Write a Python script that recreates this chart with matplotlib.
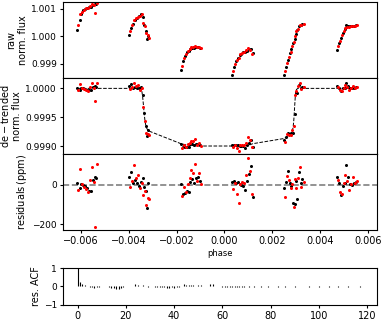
import matplotlib
matplotlib.use("Agg")
import matplotlib.pyplot as plt
import numpy as np

# ---- black points (phase, raw flux, de-trended flux, residuals in ppm)
phase_k = [-0.00615, -0.00606, -0.00598, -0.00590, -0.00582, -0.00574, -0.00566, -0.00558, -0.00550, -0.00542, -0.00536,
           -0.00398, -0.00390, -0.00382, -0.00374, -0.00366, -0.00358, -0.00350, -0.00342, -0.00336, -0.00330, -0.00324, -0.00319,
           -0.00182, -0.00174, -0.00166, -0.00158, -0.00150, -0.00142, -0.00134, -0.00126, -0.00118, -0.00110, -0.00102,
           0.00031, 0.00039, 0.00047, 0.00055, 0.00063, 0.00071, 0.00079, 0.00087, 0.00095, 0.00103, 0.00111, 0.00118,
           0.00249, 0.00257, 0.00265, 0.00273, 0.00280, 0.00287, 0.00293, 0.00298, 0.00304, 0.00311, 0.00318, 0.00326,
           0.00470, 0.00478, 0.00486, 0.00494, 0.00502, 0.00510, 0.00518, 0.00526, 0.00534, 0.00542, 0.00550]
raw_k = [1.00023, 1.00060, 1.00082, 1.00094, 1.00100, 1.00103, 1.00105, 1.00107, 1.00113, 1.00116, 1.00116,
         1.00006, 1.00030, 1.00045, 1.00058, 1.00066, 1.00073, 1.00080, 1.00072, 1.00040, 1.00018, 0.99990, 1.00000,
         0.99879, 0.99912, 0.99930, 0.99942, 0.99948, 0.99956, 0.99958, 0.99958, 0.99960, 0.99960, 0.99959,
         0.99861, 0.99889, 0.99910, 0.99922, 0.99932, 0.99937, 0.99942, 0.99943, 0.99948, 0.99953, 0.99956, 0.99938,
         0.99861, 0.99890, 0.99915, 0.99940, 0.99955, 0.99975, 0.99990, 1.00010, 1.00022, 1.00036, 1.00041, 1.00044,
         0.99949, 0.99975, 0.99995, 1.00012, 1.00025, 1.00043, 1.00038, 1.00036, 1.00037, 1.00039, 1.00040]
det_k = [1.00001, 0.99998, 1.00000, 1.00000, 0.99999, 0.99998, 0.99997, 0.99997, 1.00002, 1.00004, 1.00003,
         1.00004, 1.00007, 1.00001, 1.00002, 1.00001, 1.00000, 1.00002, 0.99988, 0.99957, 0.99935, 0.99918, 0.99928,
         0.99904, 0.99898, 0.99898, 0.99899, 0.99898, 0.99903, 0.99903, 0.99901, 0.99903, 0.99904, 0.99902,
         0.99902, 0.99902, 0.99901, 0.99901, 0.99900, 0.99900, 0.99900, 0.99897, 0.99902, 0.99906, 0.99910, 0.99898,
         0.99911, 0.99916, 0.99923, 0.99920, 0.99922, 0.99923, 0.99955, 0.99994, 0.99992, 1.00006, 1.00001, 1.00003,
         1.00004, 1.00001, 0.99995, 1.00000, 1.00001, 1.00010, 1.00004, 1.00000, 1.00000, 1.00001, 1.00002]
res_k = [10, -18, 4, -2, -8, -15, -30, -32, 24, 40, 32,
         40, 66, 10, 24, 7, -5, 15, 32, -10, -30, -116, 7,
         5, -44, -40, -30, -35, 15, 27, 10, 32, 37, 20,
         15, 19, 7, 12, 3, 0, -5, -27, 20, 54, 96, -61,
         -18, 15, 69, 10, -5, -94, -98, 20, -74, 63, 10, 30,
         40, 7, -52, -4, 8, 100, 37, 5, 0, 10, 15]

# ---- red points
phase_r = [-0.00612, -0.00603, -0.00595, -0.00587, -0.00579, -0.00571, -0.00563, -0.00555, -0.00547, -0.00540, -0.00534,
           -0.00394, -0.00386, -0.00378, -0.00370, -0.00362, -0.00354, -0.00346, -0.00339, -0.00333, -0.00327, -0.00321, -0.00316,
           -0.00178, -0.00170, -0.00162, -0.00154, -0.00146, -0.00138, -0.00130, -0.00122, -0.00114, -0.00106, -0.00099,
           0.00035, 0.00043, 0.00051, 0.00059, 0.00067, 0.00075, 0.00083, 0.00091, 0.00099, 0.00107, 0.00114,
           0.00253, 0.00261, 0.00269, 0.00277, 0.00284, 0.00290, 0.00296, 0.00301, 0.00307, 0.00314, 0.00322, 0.00331,
           0.00474, 0.00482, 0.00490, 0.00498, 0.00506, 0.00514, 0.00522, 0.00530, 0.00538, 0.00546, 0.00554]
raw_r = [1.00040, 1.00080, 1.00088, 1.00097, 1.00102, 1.00103, 1.00111, 1.00118, 1.00113, 1.00084, 1.00120,
         1.00018, 1.00040, 1.00060, 1.00065, 1.00072, 1.00074, 1.00082, 1.00049, 1.00036, 1.00014, 1.00005, 0.99994,
         0.99891, 0.99920, 0.99937, 0.99947, 0.99953, 0.99960, 0.99961, 0.99964, 0.99960, 0.99963, 0.99958,
         0.99875, 0.99900, 0.99914, 0.99922, 0.99936, 0.99940, 0.99944, 0.99950, 0.99957, 0.99952, 0.99936,
         0.99875, 0.99905, 0.99927, 0.99945, 0.99965, 0.99978, 1.00003, 1.00018, 1.00028, 1.00040, 1.00043, 1.00045,
         0.99966, 0.99985, 1.00005, 1.00020, 1.00032, 1.00035, 1.00033, 1.00036, 1.00039, 1.00038, 1.00041]
det_r = [0.99997, 1.00008, 1.00000, 0.99999, 0.99998, 0.99996, 1.00002, 1.00009, 1.00001, 0.99978, 1.00010,
         0.99999, 1.00002, 1.00010, 1.00004, 1.00005, 0.99998, 1.00001, 0.99967, 0.99943, 0.99923, 0.99921, 0.99919,
         0.99897, 0.99901, 0.99899, 0.99903, 0.99905, 0.99909, 0.99908, 0.99912, 0.99902, 0.99906, 0.99900,
         0.99898, 0.99901, 0.99896, 0.99891, 0.99901, 0.99902, 0.99901, 0.99905, 0.99915, 0.99910, 0.99898,
         0.99907, 0.99920, 0.99919, 0.99919, 0.99928, 0.99934, 0.99988, 0.99996, 1.00004, 1.00009, 0.99999, 1.00002,
         1.00002, 0.99997, 0.99996, 1.00001, 1.00005, 1.00002, 0.99997, 1.00000, 1.00004, 1.00001, 1.00002]
res_r = [-27, 78, 5, -12, -20, -35, 24, 88, 15, -215, 104,
         -13, 20, 100, 35, 49, -18, 10, -52, -30, -103, -69, -72,
         -55, -10, -35, 5, 32, 74, 58, 104, 20, 58, 5,
         -20, 10, -44, -91, 5, 15, 8, 49, 136, 71, -44,
         -61, 46, 24, -18, 5, -114, 30, -18, 36, 88, -10, 15,
         24, -35, -44, 10, 49, 20, -27, 5, 40, 8, 20]

# ---- transit model (dashed line)
model_phase = [-0.00615, -0.00347, -0.00342, -0.00339, -0.00336, -0.00333, -0.00330, -0.00327, -0.00324, -0.00321, -0.00316,
               -0.00182, -0.00150, -0.00099, 0.00031, 0.00100, 0.00118,
               0.00249, 0.00265, 0.00277, 0.00284, 0.00287, 0.00290, 0.00293, 0.00296, 0.00298, 0.00301, 0.00304, 0.00307,
               0.00554]
model_flux = [1.00000, 1.00000, 0.99985, 0.99972, 0.99958, 0.99946, 0.99938, 0.99933, 0.99930, 0.99928, 0.99926,
              0.99904, 0.99901, 0.99900, 0.99900, 0.99901, 0.99904,
              0.99913, 0.99916, 0.99921, 0.99927, 0.99932, 0.99945, 0.99965, 0.99985, 0.99992, 0.99998, 0.99999, 1.00000,
              1.00000]

# ---- autocorrelation of residuals
acf = [1.00, 0.25, 0.14, 0.08, 0.03, -0.02, -0.05, -0.07, -0.04, -0.02,
       0.01, 0.03, 0.02, -0.02, -0.06, -0.10, -0.12, -0.11, -0.08, -0.03,
       0.01, 0.00, 0.03, 0.05, 0.12, 0.09, 0.05, 0.08, 0.02, -0.02,
       0.03, 0.02, -0.02, -0.04, -0.03, -0.02, -0.04, -0.06, -0.07, -0.05,
       -0.06, -0.03, -0.01, 0.02, 0.13, 0.09, 0.07, 0.06, 0.08, 0.05,
       0.07, 0.06, 0.02, 0.04, 0.01, 0.14, 0.11, 0.04, 0.03, 0.00,
       -0.03, -0.02, -0.04, -0.01, -0.03, -0.02, -0.01, -0.03, -0.02, -0.02,
       0.01, -0.01, 0.02, -0.01, 0.03, 0.01, -0.02, 0.02, 0.01, -0.01,
       0.02, 0.01, 0.03, -0.01, 0.02, 0.01, -0.02, 0.02, 0.03, 0.01,
       -0.01, 0.02, 0.04, 0.05, 0.03, 0.01, -0.01, 0.02, 0.01, 0.00,
       -0.02, 0.01, 0.02, 0.01, -0.01, 0.01, 0.00, 0.01, -0.01, 0.00,
       0.01, 0.00, -0.01, 0.01, 0.00, 0.01, 0.00, -0.01, 0.00, 0.01]
lags = np.arange(len(acf))

plt.rcParams["font.size"] = 7
plt.rcParams["ytick.labelsize"] = 6.5
plt.rcParams["xtick.major.size"] = 2.5
plt.rcParams["ytick.major.size"] = 2.5
plt.rcParams["xtick.major.pad"] = 2
plt.rcParams["ytick.major.pad"] = 2
plt.rcParams["axes.labelpad"] = 2

fig = plt.figure(figsize=(3.82, 3.21), dpi=100)
ax1 = fig.add_axes([0.165, 0.757, 0.822, 0.237])
ax2 = fig.add_axes([0.165, 0.520, 0.822, 0.237], sharex=ax1)
ax3 = fig.add_axes([0.165, 0.283, 0.822, 0.237], sharex=ax1)
ax4 = fig.add_axes([0.165, 0.050, 0.822, 0.115])

ms = 2.2
ax1.plot(phase_k, raw_k, "o", color="k", ms=ms, mew=0)
ax1.plot(phase_r, raw_r, "o", color="r", ms=ms, mew=0)
ax1.set_ylim(0.99849, 1.00125)
ax1.set_yticks([0.999, 1.000, 1.001])
ax1.set_ylabel("raw\nnorm. flux")

ax2.plot(model_phase, model_flux, "--", color="k", lw=0.7, zorder=1)
ax2.plot(phase_k, det_k, "o", color="k", ms=ms, mew=0)
ax2.plot(phase_r, det_r, "o", color="r", ms=ms, mew=0)
ax2.set_ylim(0.99886, 1.00018)
ax2.set_yticks([0.9990, 0.9995, 1.0000])
ax2.set_ylabel("$\\mathrm{de-trended}$\nnorm. flux")

ax3.axhline(0, ls="--", color="grey", lw=1.2, zorder=1)
ax3.plot(phase_k, res_k, "o", color="k", ms=ms, mew=0)
ax3.plot(phase_r, res_r, "o", color="r", ms=ms, mew=0)
ax3.set_ylim(-229, 155)
ax3.set_yticks([-200, 0])
ax3.set_ylabel("residuals$\\,$(ppm)")
ax3.set_xlim(-0.00675, 0.00638)
ax3.set_xticks([-0.006, -0.004, -0.002, 0.0, 0.002, 0.004, 0.006])
ax3.set_xlabel("phase", fontsize=6)

for ax in (ax1, ax2):
    ax.tick_params(labelbottom=False)
for ax in (ax1, ax2, ax3):
    ax.yaxis.get_major_formatter().set_useOffset(False)

ax4.vlines(lags, 0, acf, color="k", lw=0.8)
ax4.set_xlim(-6, 124)
ax4.set_ylim(-1, 1)
ax4.set_yticks([-1, 0, 1])
ax4.set_xticks([0, 20, 40, 60, 80, 100, 120])
ax4.tick_params(axis="x", pad=1.5)
ax4.set_ylabel("res. ACF")

fig.savefig("out.png", dpi=100)
